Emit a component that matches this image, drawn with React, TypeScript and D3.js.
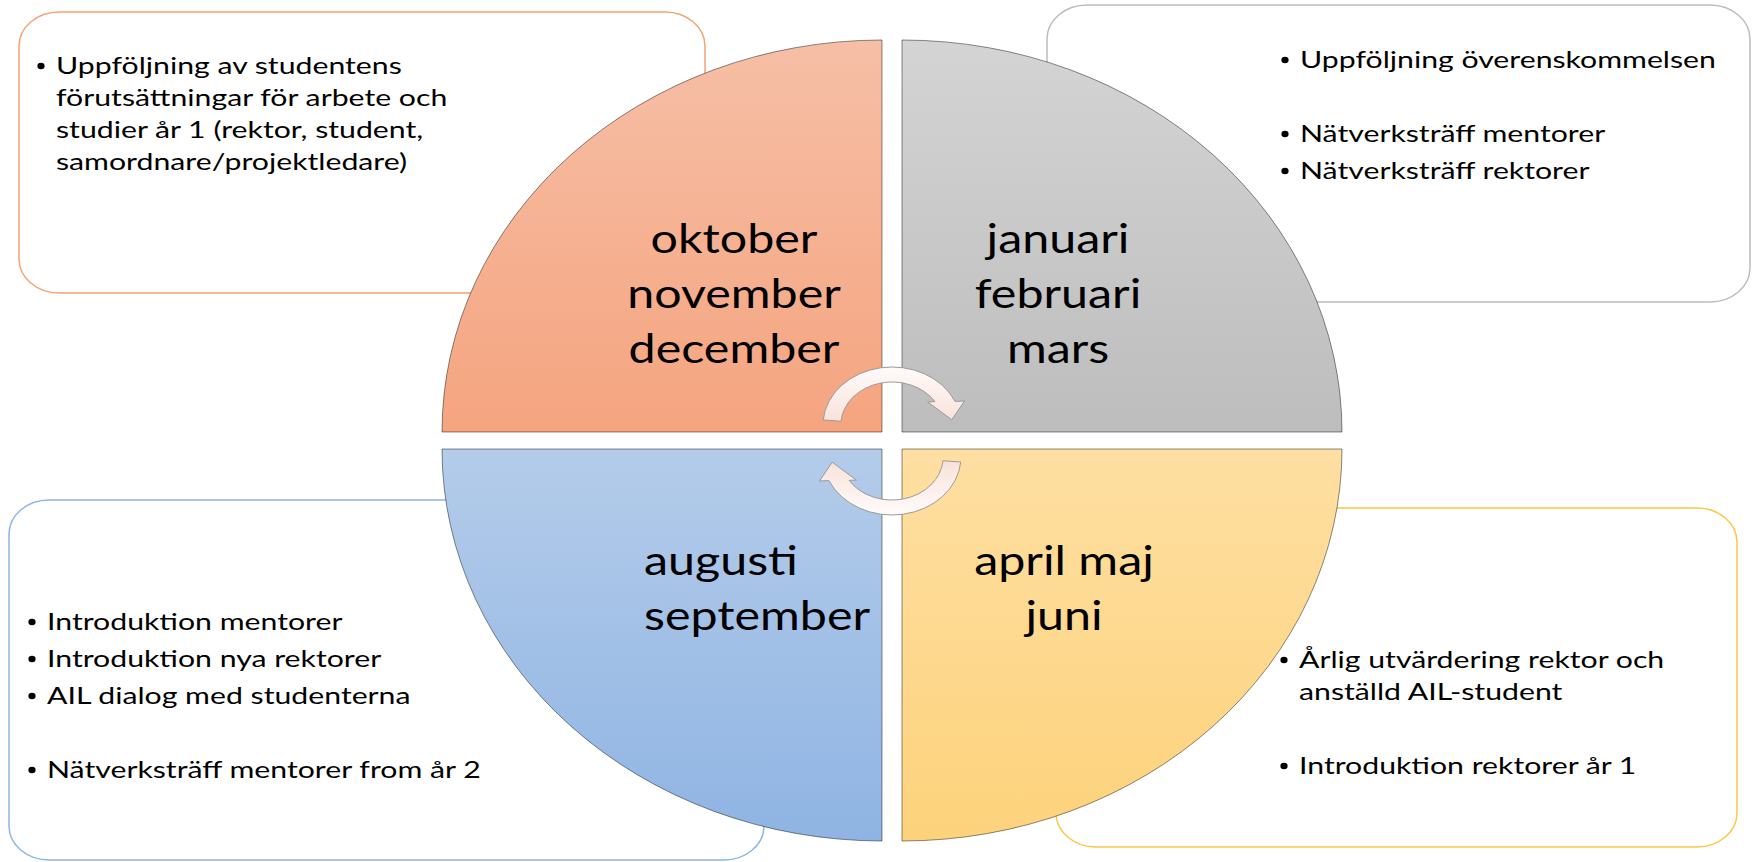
import * as d3 from "d3";

// one quarter per season, clockwise from the top right
const seasonWeights = [1, 1, 1, 1];
const seasonLabels = [
  ["januari", "februari", "mars"],
  ["april maj", "juni"],
  ["augusti", "september"],
  ["oktober", "november", "december"],
];

// activities per season, [] = empty paragraph
const janMarNotes = [
  ["Uppföljning överenskommelsen"],
  [],
  ["Nätverksträff mentorer"],
  ["Nätverksträff rektorer"],
];
const aprJunNotes = [
  ["Årlig utvärdering rektor och", "anställd AIL-student"],
  [],
  ["Introduktion rektorer år 1"],
];
const augSepNotes = [
  ["Introduktion mentorer"],
  ["Introduktion nya rektorer"],
  ["AIL dialog med studenterna"],
  [],
  ["Nätverksträff mentorer from år 2"],
];
const octDecNotes = [
  [
    "Uppföljning av studentens",
    "förutsättningar för arbete och",
    "studier år 1 (rektor, student,",
    "samordnare/projektledare)",
  ],
];
const seasonNotes = [janMarNotes, aprJunNotes, augSepNotes, octDecNotes];

/** page + wheel geometry */
const width = 1754;
const height = 862;
const cx = 892;
const cy = 440.5;
const rx = 440;
const ry = 392;
const gapX = 10;
const gapY = 8.5;
// the original slide is stretched sideways
const labelStretch = 1.21;
const noteStretch = 1.26;
const font = "Lato, 'Open Sans', sans-serif";
const lineGap = 32;
const paraGap = 37;

const styles = [
  {
    top: "#D4D4D4", bottom: "#BDBDBD", border: "#BCBCBC",
    box: { x: 1047, y: 5, w: 703, h: 297 },
    noteX: 1300, noteY: 68, labelX: 1058, labelY: 253, anchor: "middle",
  },
  {
    top: "#FEDFA2", bottom: "#FDD27B", border: "#FBC843",
    box: { x: 1056, y: 508, w: 681, h: 339 },
    noteX: 1299, noteY: 668, labelX: 1064, labelY: 575, anchor: "middle",
  },
  {
    top: "#B4CCEA", bottom: "#8FB4E3", border: "#8DB6E1",
    box: { x: 9, y: 500, w: 755, h: 360 },
    noteX: 47, noteY: 630, labelX: 644, labelY: 575, anchor: "start",
  },
  {
    top: "#F6BFA6", bottom: "#F5A47F", border: "#F2A473",
    box: { x: 19, y: 12, w: 686, h: 281 },
    noteX: 56, noteY: 74, labelX: 734, labelY: 253, anchor: "middle",
  },
];

const deg = Math.PI / 180;
const polar = (r: number, a: number): [number, number] => [
  r * Math.cos(a * deg),
  r * Math.sin(a * deg),
];

/** curved arrow ribbon, centre at 0,0 */
const arrowPath = () => {
  const R = 58;
  const r = 43;
  const tail = 185;
  const outerEnd = 336;
  const innerEnd = 327;
  const p = d3.path();
  p.moveTo(...polar(R, tail));
  p.arc(0, 0, R, tail * deg, outerEnd * deg, false);
  p.lineTo(...polar(65.5, 338.5));
  p.lineTo(...polar(50.5, 354));
  p.lineTo(...polar(37.8, 322.5));
  p.lineTo(...polar(r, innerEnd));
  p.arc(0, 0, r, innerEnd * deg, tail * deg, true);
  p.closePath();
  return p.toString();
};

const layoutNotes = (items: string[][], startY: number) => {
  const out: { text: string; y: number; first: boolean }[] = [];
  let cursor = startY - paraGap;
  items.forEach((lines) => {
    cursor += paraGap;
    lines.forEach((text, k) => {
      out.push({ text, y: cursor + k * lineGap, first: k === 0 });
    });
    if (lines.length > 1) cursor += (lines.length - 1) * lineGap;
  });
  return out;
};

const App = () => {
  const slices = d3.pie<number>().sort(null)(seasonWeights);
  const arc = d3.arc<d3.PieArcDatum<number>>().innerRadius(0).outerRadius(1);
  const arrow = arrowPath();

  return (
    <svg
      width={width}
      height={height}
      viewBox={[0, 0, width, height].join(" ")}
      style={{ position: "absolute", left: 0, top: 0, display: "block", background: "#fff" }}
    >
      <defs>
        {styles.map((s, i) => (
          <linearGradient key={i} id={`q${i}`} x1="0" y1="0" x2="0" y2="1">
            <stop offset="0" stopColor={s.top} />
            <stop offset="1" stopColor={s.bottom} />
          </linearGradient>
        ))}
        <linearGradient id="arrowFill" x1="0" y1="0" x2="0" y2="1">
          <stop offset="0" stopColor="#FFFBFA" />
          <stop offset="1" stopColor="#F8E2DA" />
        </linearGradient>
      </defs>

      {/* text boxes behind the wheel */}
      {styles.map((s, i) => (
        <rect
          key={i}
          x={s.box.x}
          y={s.box.y}
          width={s.box.w}
          height={s.box.h}
          rx={40}
          ry={34}
          fill="#fff"
          stroke={s.border}
          strokeWidth={1.5}
        />
      ))}

      {/* notes */}
      {seasonNotes.map((items, i) =>
        layoutNotes(items, styles[i].noteY).map((line, j) => (
          <g key={`${i}-${j}`}>
            {line.first && (
              <ellipse
                cx={styles[i].noteX - 15}
                cy={line.y - 8}
                rx={3.6}
                ry={3.2}
                fill="#000"
              />
            )}
            <text
              transform={`translate(${styles[i].noteX},${line.y}) scale(${noteStretch},1)`}
              style={{ fontFamily: font, fontSize: "24px" }}
              fill="#000"
            >
              {line.text}
            </text>
          </g>
        ))
      )}

      {/* wheel quarters */}
      {slices.map((d, i) => {
        const mid = (d.startAngle + d.endAngle) / 2;
        const x = cx + Math.sign(Math.sin(mid)) * gapX;
        const y = cy - Math.sign(Math.cos(mid)) * gapY;
        return (
          <path
            key={i}
            d={arc(d) ?? ""}
            transform={`translate(${x},${y}) scale(${rx},${ry})`}
            fill={`url(#q${i})`}
            stroke="rgba(0,0,0,0.45)"
            strokeWidth={1}
            vectorEffect="non-scaling-stroke"
          />
        );
      })}

      {/* season labels */}
      {seasonLabels.map((lines, i) =>
        lines.map((text, k) => (
          <text
            key={`${i}-${k}`}
            transform={`translate(${styles[i].labelX},${styles[i].labelY + k * 55}) scale(${labelStretch},1)`}
            textAnchor={styles[i].anchor}
            style={{ fontFamily: font, fontSize: "40px" }}
            fill="#000"
          >
            {text}
          </text>
        ))
      )}

      {/* cycle arrows */}
      <path
        d={arrow}
        transform={`translate(${cx},425) scale(1.19,1)`}
        fill="url(#arrowFill)"
        stroke="#9A9A9A"
        strokeWidth={1}
        vectorEffect="non-scaling-stroke"
      />
      <path
        d={arrow}
        transform={`translate(${cx},457) rotate(180) scale(1.19,1)`}
        fill="url(#arrowFill)"
        stroke="#9A9A9A"
        strokeWidth={1}
        vectorEffect="non-scaling-stroke"
      />
    </svg>
  );
};

export default App;
